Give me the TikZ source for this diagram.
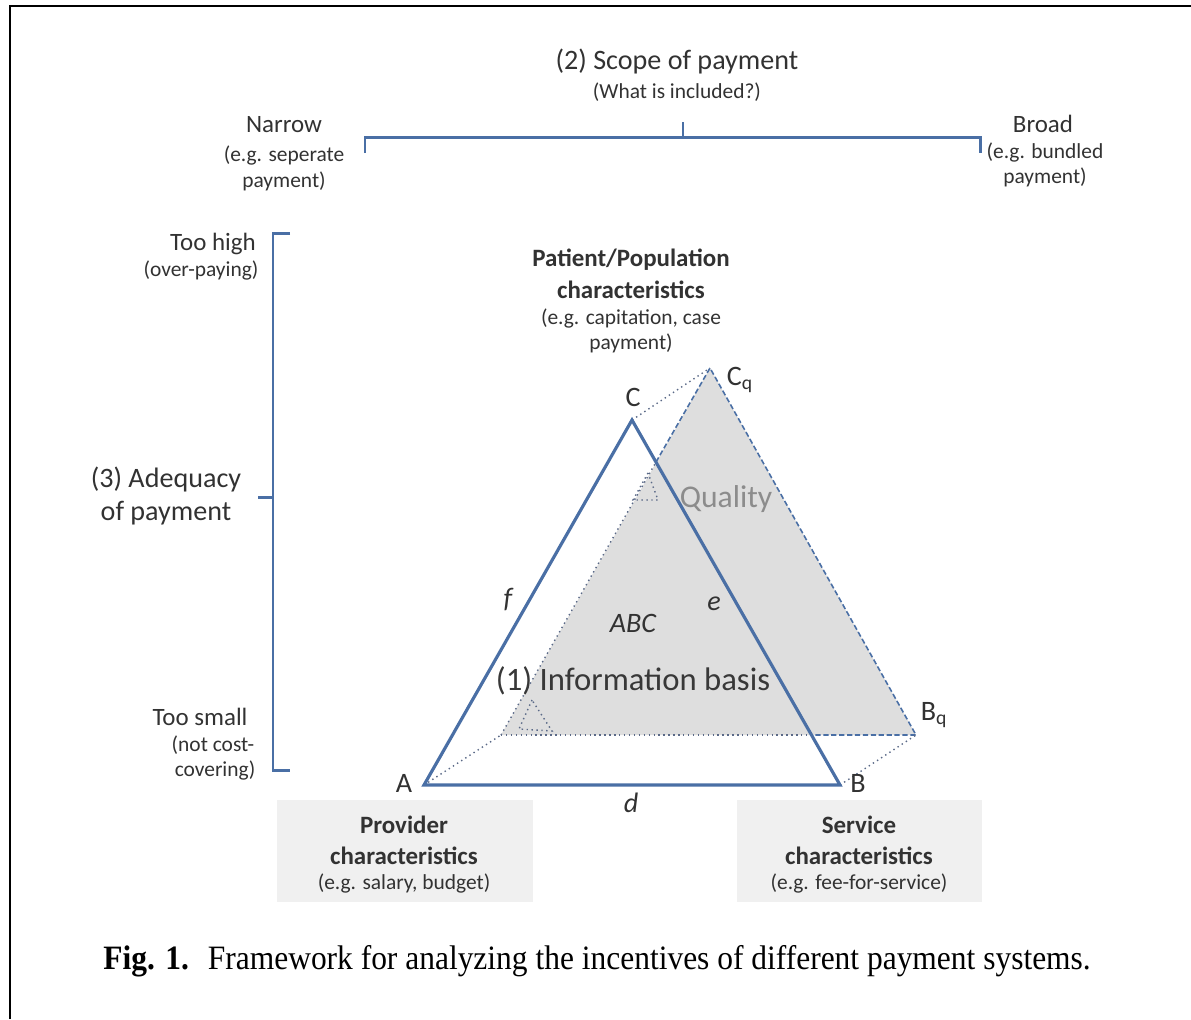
\documentclass[tikz,border=0pt]{standalone}
\usepackage{fontspec}
\setmainfont{Carlito}
\newfontfamily\capfont{Liberation Serif}
\usetikzlibrary{calc}

\definecolor{edgeblue}{RGB}{74,111,165}
\definecolor{txt}{RGB}{50,50,50}
\definecolor{qgray}{RGB}{140,140,140}
\definecolor{qfill}{RGB}{222,222,222}
\definecolor{boxfill}{RGB}{240,240,240}
\definecolor{dotgray}{RGB}{90,105,135}

\newcommand{\szT}{\fontsize{16}{19}\selectfont}
\newcommand{\szM}{\fontsize{14.2}{17}\selectfont}
\newcommand{\szS}{\fontsize{12.2}{15}\selectfont}
\newcommand{\szL}{\fontsize{18}{21}\selectfont}

\tikzset{
  lbl/.style={anchor=base, inner sep=0pt, text=txt},
  side/.style={edgeblue, line width=1.8pt, line join=miter},
  brace/.style={edgeblue, line width=1.7pt},
  qedge/.style={edgeblue, line width=0.9pt, dash pattern=on 3pt off 1.5pt},
  qdot/.style={dotgray, line width=0.8pt, dotted},
  charbox/.style={fill=boxfill, draw=none}
}

\begin{document}
\begin{tikzpicture}[x=0.02cm, y=-0.02cm]
\useasboundingbox (0,0) rectangle (1191,1019);

% frame
\draw[black, line width=1.6pt] (10,1019) -- (10,6) -- (1191,6);

% ---------- scope of payment ----------
\node[lbl] (scope) at (677,69) {\szT (2) Scope of payment};
\node[lbl] (scopeq) at (677,98) {\szS (What is included?)};
\draw[brace] (365,153) -- (365,137) -- (980,137) -- (980,153);
\draw[brace] (683,137) -- (683,122);
\node[lbl] (narrow) at (284,132) {\szM Narrow};
\node[lbl] (narrow2) at (284,161) {\szS (e.g. seperate};
\node[lbl] (narrow3) at (284,187) {\szS payment)};
\node[lbl] (broad) at (1043,132) {\szM Broad};
\node[lbl] (broad2) at (1045,158) {\szS (e.g. bundled};
\node[lbl] (broad3) at (1045,183) {\szS payment)};

% ---------- adequacy of payment ----------
\draw[brace] (290,233) -- (273,233) -- (273,770) -- (290,770);
\draw[brace] (273,497) -- (258,497);
\node[lbl] (high) at (213,250) {\szM Too high};
\node[lbl] (high2) at (201,276) {\szS (over-paying)};
\node[lbl] (adeq) at (166,487) {\szT (3) Adequacy};
\node[lbl] (adeq2) at (166,520) {\szT of payment};
\node[lbl] (small) at (200,725) {\szM Too small};
\node[lbl] (small2) at (213,751) {\szS (not cost-};
\node[lbl] (small3) at (215,776) {\szS covering)};

% ---------- patient / population ----------
\node[lbl] (pat) at (631,266) {\szM\bfseries Patient/Population};
\node[lbl] (pat2) at (631,298) {\szM\bfseries characteristics};
\node[lbl] (pat3) at (631,324) {\szS (e.g. capitation, case};
\node[lbl] (pat4) at (631,349) {\szS payment)};

% ---------- triangles ----------
\coordinate (A) at (424,785);
\coordinate (B) at (840,785);
\coordinate (C) at (632,420);
\coordinate (Aq) at (501,735);
\coordinate (Bq) at (916,735);
\coordinate (Cq) at (710,368);
\coordinate (P1) at (656,462);
\coordinate (P2) at (811,735);

% shaded quality triangle
\fill[qfill] (Aq) -- (Bq) -- (Cq) -- cycle;
\draw[qedge] (P1) -- (Cq) -- (Bq) -- (P2);
\draw[qdot] (Aq) -- (P1);
\draw[qdot] (Aq) -- (P2);
\draw[qdot] (A) -- (Aq);
\draw[qdot] (B) -- (Bq);
\draw[qdot] (C) -- (Cq);

% small dotted marks inside the shading
\draw[qdot] (532,700) -- (519,729) -- (552,731) -- cycle;
\draw[qdot] (648,473) -- (633,500) -- (658,500) -- cycle;

% base triangle ABC
\draw[side] (A) -- (B) -- (C) -- cycle;

% labels of the triangles
\node[lbl, font=\szT] (lA) at (404,792) {A};
\node[lbl, font=\szT] (lB) at (858,792) {B};
\node[lbl, font=\szT] (lC) at (633,406) {C};
\node[lbl, font=\szT] (lCq) at (740,385) {C\textsubscript{q}};
\node[lbl, font=\szT] (lBq) at (934,720) {B\textsubscript{q}};

\node[lbl, font=\szT\itshape] (lf) at (508,607) {f};
\node[lbl, font=\szT\itshape] (le) at (714,610) {e};
\node[lbl, font=\szT\itshape] (ld) at (631,812) {d};
\node[lbl, font=\szT\itshape] (lABC) at (633,632) {ABC};

\node[lbl, font=\szL, text=qgray] (qual) at (726,507) {Quality};
\node[lbl, font=\fontsize{18.6}{22}\selectfont, text=black!78] (info) at (633,690) {(1) Information basis};

% ---------- provider / service boxes ----------
\fill[charbox] (277,800) rectangle (533,902);
\fill[charbox] (737,800) rectangle (982,902);
\node[lbl] (prov) at (404,833) {\szM\bfseries Provider};
\node[lbl] (prov2) at (404,864) {\szM\bfseries characteristics};
\node[lbl] (prov3) at (404,889) {\szS (e.g. salary, budget)};
\node[lbl] (serv) at (859,833) {\szM\bfseries Service};
\node[lbl] (serv2) at (859,864) {\szM\bfseries characteristics};
\node[lbl] (serv3) at (859,889) {\szS (e.g. fee-for-service)};

% ---------- caption ----------
\node[lbl, anchor=base west, text=black] (cap) at (103,969)
  {\capfont\fontsize{18}{21}\selectfont\scalebox{0.995}[1.08]{\textbf{Fig. 1.}\hspace{0.6em}Framework for analyzing the incentives of different payment systems.}};
\end{tikzpicture}
\end{document}
